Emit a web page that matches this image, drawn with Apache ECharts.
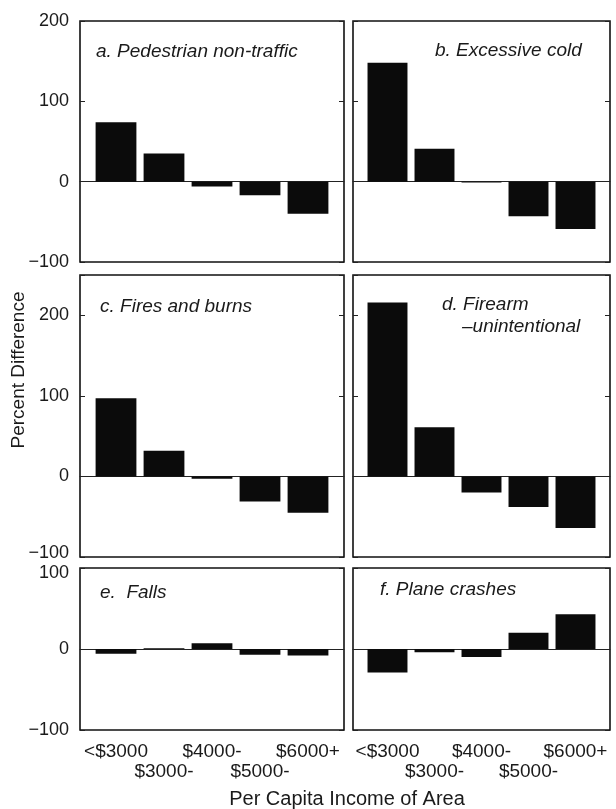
<!DOCTYPE html>
<html>
<head>
<meta charset="utf-8">
<script src="https://cdn.jsdelivr.net/npm/echarts@6/dist/echarts.min.js"></script>
<style>
html,body{margin:0;padding:0;background:#fff;}
#chart{width:616px;height:809px;}
</style>
</head>
<body>
<div id="chart"></div>
<script>
// ---- data ----
const categories = ['<$3000', '$3000-', '$4000-', '$5000-', '$6000+'];
const pedestrian = [74, 35, -6, -17, -40];
const cold = [148, 41, -1, -43, -59];
const fires = [97, 32, -3, -31, -45];
const firearm = [216, 61, -20, -38, -64];
const falls = [-6, 1, 7, -7, -8];
const plane = [-29, -4, -10, 20, 43];
const panelTitles = ['a. Pedestrian non-traffic', 'b. Excessive cold', 'c. Fires and burns', 'd. Firearm', 'e.  Falls', 'f. Plane crashes'];
const subTitleD = '–unintentional';
const yTitle = 'Percent Difference';
const xTitle = 'Per Capita Income of Area';

// ---- layout ----
const FONT = '"Liberation Sans", Arial, Helvetica, sans-serif';
const TXT = '#1a1a1a';
const rows = [
  {top: 21, bottom: 262, min: -100, max: 200, shiftMin: 0, shiftMax: 0},
  {top: 275, bottom: 557, min: -100, max: 250, shiftMin: -4, shiftMax: 0},
  {top: 568, bottom: 730, min: -100, max: 100, shiftMin: 0, shiftMax: 5}
];
const cols = [
  {left: 80, right: 344, inL: 12, inR: 12},
  {left: 353, right: 610, inL: 11, inR: 11}
];
const panels = [
  {r: 0, c: 0, data: pedestrian, title: panelTitles[0], tl: 96, tt: 41},
  {r: 0, c: 1, data: cold, title: panelTitles[1], tl: 435, tt: 40},
  {r: 1, c: 0, data: fires, title: panelTitles[2], tl: 100, tt: 296},
  {r: 1, c: 1, data: firearm, title: panelTitles[3], tl: 442, tt: 294},
  {r: 2, c: 0, data: falls, title: panelTitles[4], tl: 100, tt: 582},
  {r: 2, c: 1, data: plane, title: panelTitles[5], tl: 380, tt: 579}
];

function fmtNum(v) { return v < 0 ? '\u2212' + Math.abs(v) : String(v); }

const grid = [], xAxis = [], yAxis = [], series = [], title = [];
panels.forEach((p, i) => {
  const R = rows[p.r], C = cols[p.c];
  const h = R.bottom - R.top;
  // box grid
  const gBox = grid.length;
  grid.push({left: C.left, top: R.top, width: C.right - C.left, height: h,
    show: true, borderColor: '#111', borderWidth: 1.6, backgroundColor: 'transparent'});
  xAxis.push({gridIndex: gBox, type: 'value', min: 0, max: 1,
    axisLine: {show: true, onZero: true, lineStyle: {color: '#222', width: 1}},
    axisTick: {show: false}, axisLabel: {show: false}, splitLine: {show: false}});
  const rich = {
    n: {fontSize: 18, fontFamily: FONT, color: TXT},
    dn: {fontSize: 18, fontFamily: FONT, color: TXT, padding: [Math.max(0, R.shiftMax * 2), 0, 0, 0]},
    up: {fontSize: 18, fontFamily: FONT, color: TXT, padding: [0, 0, Math.max(0, -R.shiftMin * 2), 0]}
  };
  yAxis.push({gridIndex: gBox, type: 'value', min: R.min, max: R.max, interval: 100, position: 'left',
    axisLine: {show: false},
    axisTick: {show: true, inside: true, length: 5, lineStyle: {color: '#222'}},
    splitLine: {show: false},
    axisLabel: {show: p.c === 0, margin: 11, fontSize: 18, fontFamily: FONT, color: TXT, rich,
      formatter: v => {
        if (v % 100 !== 0) return '';
        if (v === R.max && R.shiftMax) return '{dn|' + fmtNum(v) + '}';
        if (v === R.min && R.shiftMin) return '{up|' + fmtNum(v) + '}';
        return '{n|' + fmtNum(v) + '}';
      }}});
  yAxis.push({gridIndex: gBox, type: 'value', min: R.min, max: R.max, interval: 100, position: 'right',
    axisLine: {show: false},
    axisTick: {show: true, inside: true, length: 5, lineStyle: {color: '#222'}},
    splitLine: {show: false}, axisLabel: {show: false}});
  // data grid
  const gData = grid.length;
  grid.push({left: C.left + C.inL, top: R.top, width: C.right - C.left - C.inL - C.inR, height: h, show: false});
  const xi = xAxis.length;
  xAxis.push({gridIndex: gData, type: 'category', data: categories, boundaryGap: true,
    axisLine: {show: false}, axisTick: {show: false}, splitLine: {show: false},
    axisLabel: {show: p.r === 2, interval: 0, margin: 12, fontSize: 19, lineHeight: 20,
      fontFamily: FONT, color: TXT,
      formatter: (v, idx) => (idx % 2 ? '\n' + v : v)}});
  const yi = yAxis.length;
  yAxis.push({gridIndex: gData, type: 'value', min: R.min, max: R.max, show: false});
  series.push({type: 'bar', xAxisIndex: xi, yAxisIndex: yi, data: p.data,
    barWidth: '85%', itemStyle: {color: '#0b0b0b'}, silent: true, animation: false});
  title.push({text: p.title, left: p.tl, top: p.tt, padding: 0,
    textStyle: {fontSize: 19, fontStyle: 'italic', fontWeight: 'normal', fontFamily: FONT, color: TXT, lineHeight: 22}});
});
title.push({text: subTitleD, left: 462, top: 316, padding: 0,
  textStyle: {fontSize: 19, fontStyle: 'italic', fontWeight: 'normal', fontFamily: FONT, color: TXT, lineHeight: 22}});

const chart = echarts.init(document.getElementById('chart'), null, {renderer: 'canvas'});
chart.setOption({
  backgroundColor: '#fff',
  animation: false,
  title, grid, xAxis, yAxis, series,
  graphic: [
    {type: 'text', x: 19, y: 370, rotation: Math.PI / 2,
      style: {text: yTitle, fontSize: 19, fontFamily: FONT, fill: TXT, align: 'center', verticalAlign: 'middle',
        textAlign: 'center', textVerticalAlign: 'middle'}},
    {type: 'text', x: 347, y: 799,
      style: {text: xTitle, fontSize: 20, fontFamily: FONT, fill: TXT, align: 'center', verticalAlign: 'middle',
        textAlign: 'center', textVerticalAlign: 'middle'}}
  ]
});
</script>
</body>
</html>
